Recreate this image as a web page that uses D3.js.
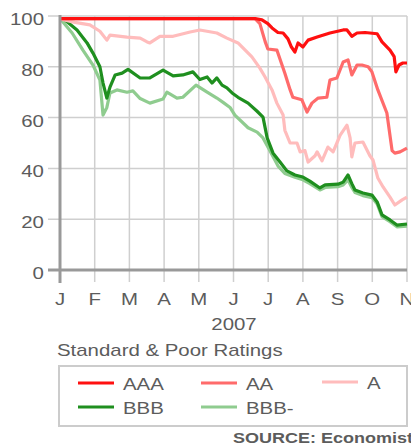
<!DOCTYPE html>
<html><head><meta charset="utf-8">
<script src="https://cdn.jsdelivr.net/npm/d3@7"></script>
<style>
html,body{margin:0;padding:0;background:#fff;overflow:hidden}
text{font-family:"Liberation Sans",Arial,sans-serif;fill:#5c5c5c}
</style></head>
<body>
<svg id="c" width="411" height="445"></svg>
<script>
// month index: 0 = Jan 1 2007, 10 = Nov 1 2007
const monthLabels = ["J","F","M","A","M","J","J","A","S","O","N"];
const yTicks = [0,20,40,60,80,100];
const seriesNames = ["AAA","AA","A","BBB","BBB-"];

const AAA = [[0,99],[5.62,99],[5.82,98.5],[5.99,97],[6.11,95.3],[6.28,93.5],[6.43,93.3],[6.57,91],[6.66,88],[6.77,85.8],[6.86,89.4],[7.0,87.8],[7.15,90.5],[7.41,91.7],[7.78,93.3],[8.16,94.5],[8.27,94.5],[8.41,92],[8.56,93.3],[8.79,93.5],[9.14,93],[9.28,89.8],[9.51,86.6],[9.63,84],[9.68,78],[9.77,80.7],[9.88,81.5],[10.0,81.5]];
const AA = [[0,99],[5.62,99],[5.76,97],[5.91,90],[5.99,87],[6.25,86.6],[6.48,77.5],[6.63,71],[6.71,68],[6.97,67],[7.12,62.2],[7.26,65.7],[7.44,67.7],[7.69,68],[7.78,74.8],[7.98,75.6],[8.16,81.9],[8.30,82.7],[8.41,76.8],[8.56,80.7],[8.70,80.7],[8.88,80],[8.99,78],[9.16,70.9],[9.42,61.8],[9.57,47],[9.65,46],[9.80,46.5],[10.0,48]];
const A = [[0,99],[0.09,98.5],[0.43,97.5],[0.86,96.5],[1.15,94],[1.35,90.5],[1.44,92.5],[1.93,91.7],[2.31,91.3],[2.51,89.8],[2.59,89.4],[2.88,92],[3.26,92],[3.75,93.7],[4.03,94.5],[4.52,93.3],[4.81,91.3],[5.13,89.4],[5.53,83.9],[5.76,79.5],[5.91,76],[6.11,70.9],[6.25,65.7],[6.43,61],[6.48,55],[6.63,50],[6.83,50],[6.92,46.5],[7.06,47],[7.15,42.5],[7.35,45],[7.41,46.5],[7.55,43],[7.72,48.4],[7.87,46.5],[7.98,50],[8.07,53],[8.27,57],[8.36,52],[8.41,44.5],[8.50,50],[8.73,50.4],[8.93,45],[9.02,43.3],[9.16,36.2],[9.31,32.7],[9.51,28.7],[9.65,25.6],[9.86,27.6],[10.0,28.7]];
const BBB = [[0,99],[0.09,99],[0.49,94.5],[0.78,89.4],[0.95,85.4],[1.15,80],[1.24,73.6],[1.35,67.7],[1.44,72],[1.59,76.8],[1.79,77.5],[1.96,79],[2.31,75.6],[2.59,75.6],[2.97,78.7],[3.26,76.4],[3.54,76.8],[3.83,78],[4.03,75],[4.24,76],[4.38,73.6],[4.52,75.6],[4.67,72.8],[4.81,71.7],[4.96,69.7],[5.13,68],[5.42,65.7],[5.68,62.5],[5.85,60.2],[5.97,52],[6.14,46],[6.34,42.5],[6.54,39],[6.77,37.4],[7.0,36.6],[7.2,35],[7.49,32.3],[7.64,33.5],[8.01,33.8],[8.16,34.6],[8.30,37.4],[8.41,34],[8.50,31.5],[8.73,30.3],[8.99,29.5],[9.14,26.8],[9.28,21.7],[9.51,19.7],[9.71,17.7],[10.0,18.1]];
const BBBminus = [[0,99],[0.35,93.3],[0.66,86.6],[0.95,80.7],[1.15,74.8],[1.24,61],[1.35,64],[1.44,69.7],[1.64,70.9],[1.93,70],[2.10,70.5],[2.31,67.5],[2.59,65.7],[2.97,67.3],[3.08,70],[3.37,67.7],[3.54,68],[3.92,72.8],[4.24,70],[4.52,67.7],[4.70,66],[4.90,64],[5.04,61],[5.42,56],[5.68,54.3],[5.85,52],[6.05,47],[6.28,41],[6.48,38],[6.77,36.5],[7.0,35.5],[7.2,34],[7.49,31.5],[7.64,32.5],[8.01,32.8],[8.16,33.5],[8.30,35.5],[8.41,32.5],[8.50,30.5],[8.73,29.3],[8.99,28.5],[9.14,26],[9.28,21],[9.51,19],[9.71,17],[10.0,17.3]];

const colors = {"AAA":"#ff1010","AA":"#ff6b6b","A":"#ffbcbc","BBB":"#1f8f1f","BBB-":"#8fcc8f"};
const dataBy = {"AAA":AAA,"AA":AA,"A":A,"BBB":BBB,"BBB-":BBBminus};

const svg = d3.select("#c");
const x = d3.scaleLinear().domain([0,10]).range([60,407]);
const y = d3.scaleLinear().domain([0,100]).range([270,16]);
const stretch = 1.2;

// gridlines
const g = svg.append("g");
g.selectAll(".hg").data(yTicks.filter(d=>d>0)).join("line")
  .attr("x1",48).attr("x2",407).attr("y1",d=>y(d)).attr("y2",d=>y(d))
  .attr("stroke","#cfcfcf").attr("stroke-width",1.5);
g.selectAll(".vg").data(d3.range(1,11)).join("line")
  .attr("x1",d=>x(d)).attr("x2",d=>x(d)).attr("y1",y(100)).attr("y2",282)
  .attr("stroke","#cfcfcf").attr("stroke-width",1.5);

// y labels
g.selectAll(".yl").data(yTicks).join("text")
  .attr("x",44).attr("y",d=>y(d)+9).attr("text-anchor","end")
  .attr("font-size",17).text(d=>d);
// x labels
g.selectAll(".xl").data(monthLabels).join("text")
  .attr("x",(d,i)=>x(i)).attr("y",305).attr("text-anchor","middle")
  .attr("font-size",17).text(d=>d);

// lines
const line = d3.line().x(d=>x(d[0])).y(d=>y(d[1]));
["BBB-","BBB","A","AA","AAA"].forEach(n=>{
  svg.append("path").datum(dataBy[n]).attr("d",line)
    .attr("fill","none").attr("stroke",colors[n]).attr("stroke-width",3.2)
    .attr("stroke-linejoin","round");
});

// axes
svg.append("line").attr("x1",x(0)).attr("x2",x(0)).attr("y1",y(100)-1).attr("y2",283)
  .attr("stroke","#999").attr("stroke-width",3);
svg.append("line").attr("x1",48).attr("x2",407).attr("y1",y(0)).attr("y2",y(0))
  .attr("stroke","#999").attr("stroke-width",3);

svg.append("text").attr("x",234).attr("y",330).attr("text-anchor","middle")
  .attr("font-size",17).text("2007");
svg.append("text").attr("x",57).attr("y",356).attr("font-size",17).text("Standard & Poor Ratings");

// legend
svg.append("rect").attr("x",59).attr("y",366).attr("width",348).attr("height",60)
  .attr("fill","none").attr("stroke","#ccc").attr("stroke-width",2);
const legPos = [[78,383],[201,383],[322,382],[78,407],[201,407]];
seriesNames.forEach((n,i)=>{
  const [lx,ly] = legPos[i];
  svg.append("line").attr("x1",lx).attr("x2",lx+36).attr("y1",ly).attr("y2",ly)
    .attr("stroke",colors[n]).attr("stroke-width",3);
  svg.append("text").attr("x",lx+45).attr("y",ly+7).attr("font-size",17).text(n);
});

svg.append("text").attr("x",233).attr("y",443).attr("font-size",15)
  .attr("font-weight","bold").text("SOURCE: Economist");

// horizontal stretch of text to mimic the reference's wide lettering
svg.selectAll("text").each(function(){
  const w = this.getComputedTextLength();
  d3.select(this).attr("textLength",w*stretch).attr("lengthAdjust","spacingAndGlyphs");
});
</script>
</body></html>
